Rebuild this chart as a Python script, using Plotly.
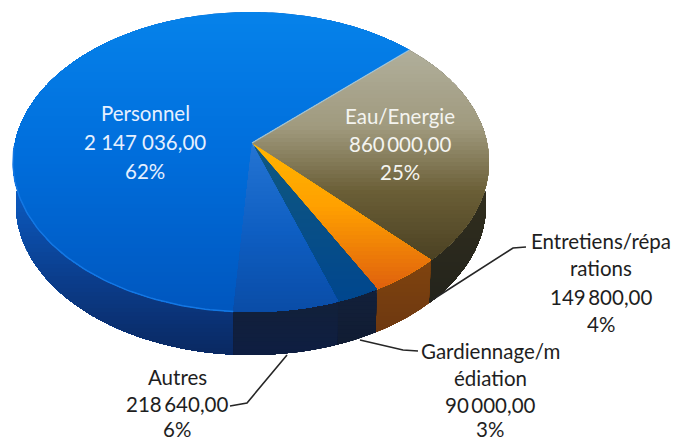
import math
import plotly.graph_objects as go

# ---------- data ----------
categories = ["Eau/Energie", "Entretiens/répa<br>rations", "Gardiennage/m<br>édiation", "Autres", "Personnel"]
values = [860000.00, 149800.00, 90000.00, 218640.00, 2147036.00]
amount_labels = ["860\u2009000,00", "149\u2009800,00", "90\u2009000,00", "218\u2009640,00", "2 147 036,00"]
percent_labels = ["25%", "4%", "3%", "6%", "62%"]

# ---------- style / layout ----------
W, H = 677, 441
CX, CY, RX, RY = 251, 162, 238, 150      # rim of the top face
WALL_CY, WALL_RX, WALL_RY = 205, 235, 150  # rim of the bottom face
TILT = 0.127                             # perspective shift of the pie centre
START_DEG = 46.8

top_grad = {
    "Personnel": [(12, "#0682ea"), (150, "#006edc"), (312, "#0056be")],
    "Eau/Energie": [(50, "#b0ae9a"), (125, "#a09a7e"), (190, "#6a5e36"), (260, "#4a4022")],
    "Entretiens": [(145, "#ffb400"), (205, "#ffa000"), (290, "#de5e0e")],
    "Gardiennage": [(145, "#10587f"), (300, "#00468e")],
    "Autres": [(145, "#2474d2"), (230, "#0e5ec2"), (312, "#0a4ca6")],
}
wall_grad = {
    "Personnel": [(195, "#0b58bc"), (280, "#0b3c8a"), (355, "#0a2860")],
    "Eau/Energie": [(170, "#34301e"), (295, "#24241c")],
    "Entretiens": [(255, "#80440f"), (330, "#6e3810")],
    "Gardiennage": [(290, "#12203a"), (345, "#111c32")],
    "Autres": [(300, "#12203a"), (355, "#0e1e42")],
}
keys = ["Eau/Energie", "Entretiens", "Gardiennage", "Autres", "Personnel"]

# label lines: centre x and per-line y
label_pos = [
    (400, [116, 144, 172], "#f4f4f0"),
    (601, [241, 268, 297, 324], "#1e1e1e"),
    (490, [351, 378, 405, 429], "#1e1e1e"),
    (177, [377, 404, 429], "#1e1e1e"),
    (145, [113, 142, 171], "#e6f0ff"),
]
leaders = [
    ([432, 513, 526], [300, 248, 247]),
    ([360, 403, 418], [340, 350, 351]),
    ([287, 247, 230], [355, 403, 406]),
]


def hex2rgb(c):
    return tuple(int(c[i:i + 2], 16) for i in (1, 3, 5))


def grad_color(stops, y):
    if y <= stops[0][0]:
        return stops[0][1]
    for (y0, c0), (y1, c1) in zip(stops, stops[1:]):
        if y <= y1:
            t = (y - y0) / (y1 - y0)
            a, b = hex2rgb(c0), hex2rgb(c1)
            return "#%02x%02x%02x" % tuple(round(p + (q - p) * t) for p, q in zip(a, b))
    return stops[-1][1]


def project(r, deg):
    """Perspective map of a point of the unit disc into the unit ellipse."""
    th = math.radians(deg)
    x, y = r * math.sin(th), r * math.cos(th) * -1
    d = 1 - TILT * y
    return x * math.sqrt(1 - TILT ** 2) / d, (y - TILT) / d


def rim(a, b):
    n = max(2, int(abs(b - a)))
    return [project(1, a + (b - a) * i / n) for i in range(n + 1)]


def clip_below(poly, yc):
    out = []
    for i, (x0, y0) in enumerate(poly):
        x1, y1 = poly[(i + 1) % len(poly)]
        if y0 >= yc:
            out.append((x0, y0))
        if (y0 >= yc) != (y1 >= yc):
            t = (yc - y0) / (y1 - y0)
            out.append((x0 + (x1 - x0) * t, yc))
    return out


fig = go.Figure()


def add_gradient(poly, stops, step=4):
    ys = [p[1] for p in poly]
    y, ymax = min(ys), max(ys)
    while y < ymax:
        part = clip_below(poly, y) if y > min(ys) else poly
        if len(part) >= 3:
            fig.add_trace(go.Scatter(
                x=[p[0] for p in part] + [part[0][0]],
                y=[p[1] for p in part] + [part[0][1]],
                mode="none", fill="toself",
                fillcolor=grad_color(stops, y),
                hoverinfo="skip", showlegend=False))
        y += step


# slice boundaries from the values
total = sum(values)
bounds = [START_DEG]
for v in values:
    bounds.append(bounds[-1] + 360 * v / total)
spans = list(zip(bounds, bounds[1:]))

# walls, far slices first
for i in [4, 0, 1, 2, 3]:
    a, b = spans[i]
    arc = rim(a, b)
    upper = [(CX + RX * x, CY + RY * y) for x, y in arc]
    lower = [(CX + WALL_RX * x, WALL_CY + WALL_RY * y) for x, y in arc]
    add_gradient(upper + lower[::-1], wall_grad[keys[i]])

# top face
apex = project(0, 0)
apex_px = (CX + RX * apex[0] + 1, CY + RY * apex[1])
for i in [4, 0, 1, 2, 3]:
    a, b = spans[i]
    poly = [apex_px] + [(CX + RX * x, CY + RY * y) for x, y in rim(a, b)]
    add_gradient(poly, top_grad[keys[i]])

# light edge between Personnel and Eau/Energie
p = project(1, spans[0][0])
fig.add_trace(go.Scatter(x=[apex_px[0], CX + RX * p[0]], y=[apex_px[1], CY + RY * p[1]],
                         mode="lines", line=dict(color="rgba(160,205,235,0.75)", width=1.2),
                         hoverinfo="skip", showlegend=False))
# bright rim on the front of Personnel
arc = rim(spans[4][0], spans[4][0] + 85)
fig.add_trace(go.Scatter(x=[CX + RX * x for x, y in arc], y=[CY + RY * y for x, y in arc],
                         mode="lines", line=dict(color="#1478e4", width=1.5),
                         hoverinfo="skip", showlegend=False))

# leader lines
for lx, ly in leaders:
    fig.add_trace(go.Scatter(x=lx, y=ly, mode="lines", line=dict(color="#262626", width=1.6),
                             hoverinfo="skip", showlegend=False))

# labels
for cat, amt, pct, (lx, lys, col) in zip(categories, amount_labels, percent_labels, label_pos):
    lines = cat.split("<br>") + [amt, pct]
    for txt, ly in zip(lines, lys):
        fig.add_annotation(x=lx, y=ly, text=txt, showarrow=False, xanchor="center", yanchor="middle",
                           font=dict(family="Lato, Carlito, Calibri, sans-serif", size=20.5, color=col))

fig.update_layout(
    width=W, height=H, margin=dict(l=0, r=0, t=0, b=0),
    paper_bgcolor="white", plot_bgcolor="white", showlegend=False,
    xaxis=dict(range=[0, W], visible=False, fixedrange=True),
    yaxis=dict(range=[H, 0], visible=False, fixedrange=True),
)
fig.write_html("out.html", config={"displayModeBar": False},
               post_script="document.body.style.margin='0';document.documentElement.style.overflow='hidden';")
